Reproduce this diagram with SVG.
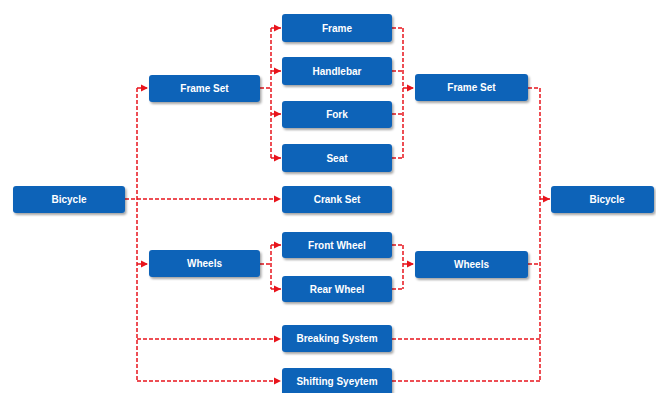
<svg xmlns="http://www.w3.org/2000/svg" width="656" height="393" viewBox="0 0 656 393">
<defs>
<filter id="sh" x="-10%" y="-20%" width="130%" height="160%">
<feDropShadow dx="1.5" dy="2" stdDeviation="1.2" flood-color="#000" flood-opacity="0.35"/>
</filter>
<marker id="ah" markerWidth="8" markerHeight="8" refX="7" refY="4" orient="auto" markerUnits="userSpaceOnUse">
<path d="M0,0.5 L7,4 L0,7.5 Z" fill="#e8141c"/>
</marker>
<style>
.n rect{fill:#0b63b8;filter:url(#sh)}
.n text{fill:#fff;font-family:"Liberation Sans",Arial,sans-serif;font-weight:bold;font-size:10px;text-anchor:middle;dominant-baseline:central}
.c path{fill:none;stroke:#e8141c;stroke-width:1.5;stroke-dasharray:4 2}
.c .a{marker-end:url(#ah)}
</style>
</defs>
<rect width="656" height="393" fill="#fff"/>
<g class="c" id="connectors">
<path d="M125,199 H137 M137,88 V381"/>
<path class="a" d="M137,88 H148"/>
<path class="a" d="M137,199 H281"/>
<path class="a" d="M137,264 H148"/>
<path class="a" d="M137,339 H281"/>
<path class="a" d="M137,381 H281"/>
<path d="M260,88 H271 M271,28 V158"/>
<path class="a" d="M271,28 H281"/>
<path class="a" d="M271,71 H281"/>
<path class="a" d="M271,114 H281"/>
<path class="a" d="M271,158 H281"/>
<path d="M260,264 H271 M271,245 V289"/>
<path class="a" d="M271,245 H281"/>
<path class="a" d="M271,289 H281"/>
<path d="M392,28 H403 M392,71 H403 M392,114 H403 M392,158 H403 M403,28 V158"/>
<path class="a" d="M403,88 H414"/>
<path d="M392,245 H403 M392,289 H403 M403,245 V289"/>
<path class="a" d="M403,264 H414"/>
<path d="M528,88 H540 V381 M528,264 H540 M392,339 H540 M392,381 H540"/>
<path class="a" d="M540,199 H550"/>
</g>
<g class="n" id="bicycle-left"><rect x="13" y="186" width="112" height="27" rx="3"/><text x="69" y="199.5">Bicycle</text></g>
<g class="n" id="frameset-left"><rect x="149" y="75" width="111" height="27" rx="3"/><text x="204.5" y="88.5">Frame Set</text></g>
<g class="n" id="wheels-left"><rect x="149" y="250" width="111" height="27" rx="3"/><text x="204.5" y="263.5">Wheels</text></g>
<g class="n" id="frame"><rect x="282" y="14" width="110" height="28" rx="3"/><text x="337" y="28">Frame</text></g>
<g class="n" id="handlebar"><rect x="282" y="57" width="110" height="28" rx="3"/><text x="337" y="71">Handlebar</text></g>
<g class="n" id="fork"><rect x="282" y="101" width="110" height="27" rx="3"/><text x="337" y="114.5">Fork</text></g>
<g class="n" id="seat"><rect x="282" y="144" width="110" height="28" rx="3"/><text x="337" y="158">Seat</text></g>
<g class="n" id="crankset"><rect x="282" y="186" width="110" height="27" rx="3"/><text x="337" y="199.5">Crank Set</text></g>
<g class="n" id="frontwheel"><rect x="282" y="232" width="110" height="26" rx="3"/><text x="337" y="245">Front Wheel</text></g>
<g class="n" id="rearwheel"><rect x="282" y="276" width="110" height="26" rx="3"/><text x="337" y="289">Rear Wheel</text></g>
<g class="n" id="breaking"><rect x="282" y="325" width="110" height="27" rx="3"/><text x="337" y="338.5">Breaking System</text></g>
<g class="n" id="shifting"><rect x="282" y="368" width="110" height="28" rx="3"/><text x="337" y="381">Shifting Syeytem</text></g>
<g class="n" id="frameset-right"><rect x="415" y="74" width="113" height="27" rx="3"/><text x="471.5" y="87.5">Frame Set</text></g>
<g class="n" id="wheels-right"><rect x="415" y="251" width="113" height="27" rx="3"/><text x="471.5" y="264.5">Wheels</text></g>
<g class="n" id="bicycle-right"><rect x="551" y="186" width="103" height="27" rx="3"/><text x="607" y="199.5">Bicycle</text></g>
</svg>
